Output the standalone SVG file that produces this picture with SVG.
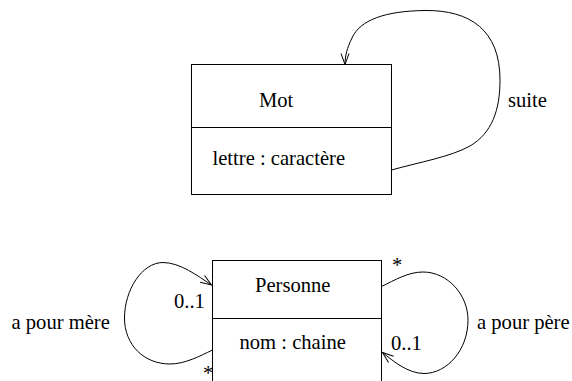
<svg xmlns="http://www.w3.org/2000/svg" width="572" height="381" viewBox="0 0 572 381">
<style>
.t{font-family:"Liberation Serif","Times New Roman",Times,serif;font-size:20.6px;fill:#000}
.box{fill:#fff;stroke:#000;stroke-width:1}
.conn{fill:none;stroke:#000;stroke-width:1;marker-end:url(#open)}
</style>
<defs>
<marker id="open" markerUnits="userSpaceOnUse" markerWidth="14" markerHeight="10" refX="11" refY="4" orient="auto" overflow="visible">
<path d="M0,0 L11,4 L0,8" fill="none" stroke="#000" stroke-width="1"/>
</marker>
</defs>
<rect width="572" height="381" fill="#fff"/>
<g id="connectors">
<path class="conn" d="M391.5,170 C420,162 450,157 470,146 C492,133 500,110 500,80 C500,30 470,10 425,10.5 C385,11 360,20 352,38 C347,48 345,56 345,64.5"/>
<path class="conn" d="M212.5,350 C200,356 185,364 170,364 C144,364 124.5,345 124.5,318 C124.5,290 142,262.5 163,262.5 C180,262.5 198,276 211.5,285"/>
<path class="conn" d="M381.5,286.5 C395,280 408,272 423,272 C448,272 468,295 468,320 C468,350 447,373.5 424,373.5 C408,373.5 393,361 382.5,352.5"/>
</g>
<g id="labels">
<text class="t" x="508" y="107">suite</text>
<text class="t" x="174" y="307.5">0..1</text>
<text class="t" x="11.5" y="328.5">a pour mère</text>
<text class="t" x="203" y="380">*</text>
<text class="t" x="392" y="272">*</text>
<text class="t" x="391" y="350">0..1</text>
<text class="t" x="477" y="328.5">a pour père</text>
</g>
<g id="Mot">
<rect class="box" x="191.5" y="64.5" width="200" height="130"/>
<line x1="191.5" y1="127.5" x2="391.5" y2="127.5" stroke="#000" stroke-width="1"/>
<text class="t" x="259" y="106.5">Mot</text>
<text class="t" x="212.5" y="165">lettre : caractère</text>
</g>
<g id="Personne">
<rect class="box" x="212.5" y="260.5" width="169" height="140"/>
<line x1="212.5" y1="318.5" x2="381.5" y2="318.5" stroke="#000" stroke-width="1"/>
<text class="t" x="255" y="291.5">Personne</text>
<text class="t" x="239.5" y="349">nom : chaine</text>
</g>
</svg>
